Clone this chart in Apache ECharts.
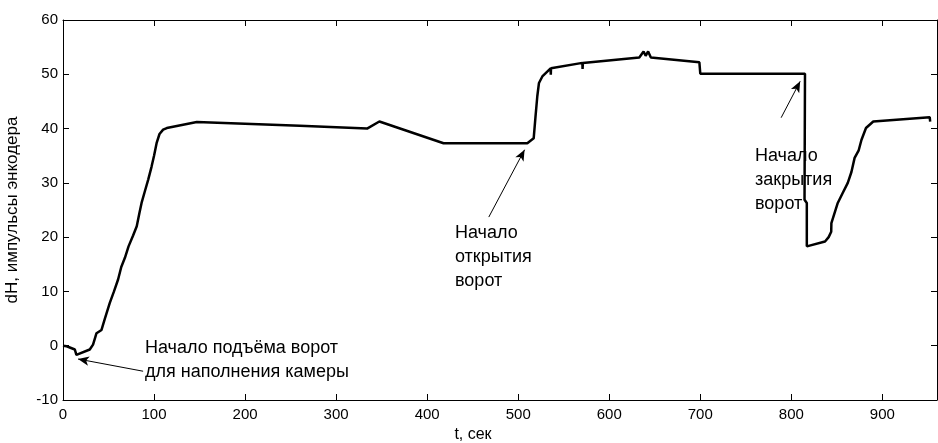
<!DOCTYPE html>
<html>
<head>
<meta charset="utf-8">
<script src="https://cdn.jsdelivr.net/npm/echarts@6/dist/echarts.min.js"></script>
<style>
  html, body { margin: 0; padding: 0; background: #fff; }
  #chart { width: 938px; height: 443px; }
</style>
</head>
<body>
<div id="chart"></div>
<script>
// время, сек
const tSec = [
  0, 4, 13, 14.7, 16, 29.4, 33, 36.8, 42.3, 46, 51.4, 56, 60.5, 64, 68, 72, 77, 81, 84, 86.3,
  90, 93.6, 97.3, 100, 102.8, 106, 110, 114, 147, 260, 334, 347.5, 418, 510, 517, 519, 521,
  522.8, 526.5, 535.6, 535.8, 536, 570.5, 570.7, 571, 633, 637.7, 640, 642.7, 645.7, 699, 700,
  815, 814.5, 817, 817, 837, 841, 843.8, 844, 851, 856, 862, 866, 869.5, 874, 877, 882, 890,
  952, 952.5
]
// dH, импульсы энкодера
const dH = [
  0, -0.1, -0.7, -1.7, -1.6, -0.7, 0.2, 2.3, 2.9, 5, 7.9, 10, 12.2, 14.5, 16.2, 18.3, 20.3, 22, 24.5, 26.3,
  28.5, 30.6, 33, 35, 37.3, 39, 39.8, 40.1, 41.2, 40.5, 40.0, 41.3, 37.3, 37.3, 38.2, 42.2, 46,
  48.4, 49.6, 51.1, 49.9, 51.1, 52.1, 51.0, 52.1, 53.1, 54.2, 53.4, 54.2, 53.1, 52.2, 50.1,
  50.1, 26.9, 26.3, 18.3, 19.2, 20, 21, 22.6, 26.3, 28, 30, 32, 34.6, 36, 37.9, 40.1, 41.3,
  42.1, 41.3
]

// подписи: текст, хвост стрелки, острие стрелки
const notes = [
  { text: 'Начало подъёма ворот\nдля наполнения камеры', from: [88, -4.7], to: [16.5, -2.45] },
  { text: 'Начало\nоткрытия\nворот', from: [467.7, 23.7], to: [507, 36.1] },
  { text: 'Начало\nзакрытия\nворот', from: [788.8, 42], to: [809.7, 48.7] }
]
const notePos = [[145, 336], [455, 221], [755, 144]]

const font = 'Liberation Sans, Arial, sans-serif'
const myChart = echarts.init(document.getElementById('chart'))

const tickStyle = { show: true, inside: true, length: 6, lineStyle: { color: '#000', width: 1 } }
const lineAx = { show: true, onZero: false, lineStyle: { color: '#000', width: 1 } }

const option = {
  backgroundColor: '#fff',
  animation: false,
  grid: { left: 63, right: 1, top: 20, bottom: 43, containLabel: false, outerBoundsMode: 'none' },
  xAxis: [
    {
      type: 'value', min: 0, max: 960, interval: 100,
      name: 't, сек', nameLocation: 'middle', nameGap: 27,
      nameTextStyle: { fontFamily: font, fontSize: 16, color: '#000', padding: [0, 54, 0, 0] },
      axisLine: lineAx, axisTick: tickStyle,
      axisLabel: { fontFamily: font, fontSize: 15, color: '#000', margin: 7, showMaxLabel: false },
      splitLine: { show: false }
    },
    {
      type: 'value', min: 0, max: 960, interval: 100, position: 'top',
      axisLine: lineAx, axisTick: tickStyle, axisLabel: { show: false }, splitLine: { show: false }
    }
  ],
  yAxis: [
    {
      type: 'value', min: -10, max: 60, interval: 10,
      name: 'dH, импульсы энкодера', nameLocation: 'middle', nameGap: 42,
      nameTextStyle: { fontFamily: font, fontSize: 17, color: '#000' },
      axisLine: lineAx, axisTick: tickStyle,
      axisLabel: { fontFamily: font, fontSize: 15, color: '#000', margin: 5 },
      splitLine: { show: false }
    },
    {
      type: 'value', min: -10, max: 60, interval: 10, position: 'right',
      axisLine: lineAx, axisTick: tickStyle, axisLabel: { show: false }, splitLine: { show: false }
    }
  ],
  series: [
    {
      type: 'line',
      data: tSec.map((t, i) => [t, dH[i]]),
      showSymbol: false,
      lineStyle: { color: '#000', width: 2.5 },
      markLine: {
        silent: true,
        symbol: ['none', 'arrow'],
        symbolSize: [7, 11],
        label: { show: false },
        lineStyle: { color: '#000', width: 1, type: 'solid' },
        data: notes.map(n => [{ coord: n.from }, { coord: n.to }])
      }
    }
  ],
  graphic: notes.map((n, i) => ({
    type: 'text',
    left: notePos[i][0],
    top: notePos[i][1],
    style: { text: n.text, font: '18px ' + font, fill: '#000', lineHeight: 24 }
  }))
}
myChart.setOption(option, true)
</script>
</body>
</html>
